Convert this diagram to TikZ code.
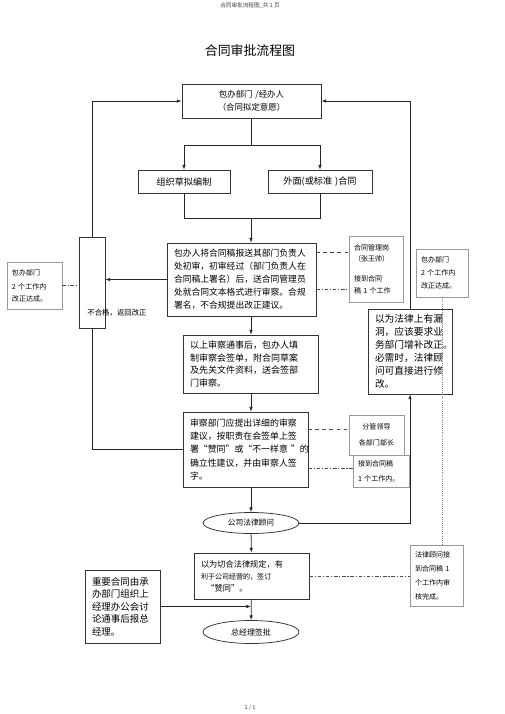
\documentclass[tikz,border=0pt]{standalone}
\usepackage{fontspec}
\setmainfont{Noto Sans CJK SC}
\usetikzlibrary{arrows.meta,shapes.geometric}

\newcommand{\fsz}[2]{\fontsize{#1}{#2}\selectfont}

\tikzset{
  >={Latex[length=4pt,width=3pt]},
  flow/.style={line width=0.65pt, draw=black!85},
  pbox/.style 2 args={draw=black!80, line width=0.65pt, fill=white,
    minimum width=#1*0.03cm, minimum height=#2*0.03cm,
    inner ysep=0pt, inner xsep=7*0.03cm, text width=#1*0.03cm-14*0.03cm, align=left},
  note/.style 2 args={draw=black!40, line width=0.4pt,
    minimum width=#1*0.03cm, minimum height=#2*0.03cm,
    inner ysep=0pt, inner xsep=5*0.03cm, text width=#1*0.03cm-10*0.03cm, align=left,
    font=\fsz{6}{10}},
  oval/.style={ellipse, draw=black!80, line width=0.65pt, fill=white,
    minimum width=96*0.03cm, minimum height=21*0.03cm, inner sep=0pt},
  dashdotline/.style={line width=0.5pt, draw=black!70,
    dash pattern=on 3pt off 1.5pt on 1pt off 1.5pt},
}

\begin{document}
\begin{tikzpicture}[x=0.03cm, y=-0.03cm]
\useasboundingbox (0,0) rectangle (505,714);

% Heading
\node[font=\fsz{4.8}{6}, text=black!75] (hdr) at (250,6) {合同审批流程图\_共 1 页};
\node[font=\fsz{11}{13}] (title) at (250,51) {合同审批流程图};

% Main column
\node[pbox={139}{34}, align=center, font=\fsz{7.2}{11}] (head) at (251.5,101)
  {包办部门 /经办人\\（合同拟定意愿）};
\node[pbox={92}{23}, align=center, font=\fsz{7.8}{10}] (draft) at (184,181.5) {组织草拟编制};
\node[pbox={104}{23}, align=center, font=\fsz{7.8}{10}] (std) at (320,181.5) {外面(或标准 )合同};
\node[pbox={149}{73}, font=\fsz{7.5}{11}] (first) at (241.5,279.5)
  {包办人将合同稿报送其部门负责人\\处初审，初审经过（部门负责人在\\合同稿上署名）后，送合同管理员\\处就合同文本格式进行审察。合规\\署名，不合规提出改正建议。};
\node[pbox={135}{58}, font=\fsz{7.7}{10.8}] (sign) at (250.5,364)
  {以上审察通事后，包办人填\\制审察会签单，附合同草案\\及先关文件资料，送会签部\\门审察。};
\node[pbox={125}{75}, font=\fsz{7.6}{11.3}] (dept) at (245.5,449.5)
  {审察部门应提出详细的审察\\建议，按职责在会签单上签\\署“赞同”或“不一样意~”的\\确立性建议，并由审察人签\\字。};
\node[oval, font=\fsz{6.6}{8}] (legal) at (251,523) {公司法律顾问};
\node[pbox={115}{46}, font=\fsz{7}{10.2}, inner xsep=6*0.03cm] (agree) at (251.5,576)
  {以为切合法律规定，有\\{\fsz{6}{10.2}利于公司经营的，签订}\\\ \ “赞同”。};
\node[oval, minimum height=23*0.03cm, font=\fsz{6.8}{8}] (gm) at (251,632) {总经理签批};
\node[pbox={75}{73}, font=\fsz{8.1}{10.6}, inner xsep=5*0.03cm] (meeting) at (122.5,606.5)
  {重要合同由承\\办部门组织上\\经理办公会讨\\论通事后报总\\经理。};

% Return boxes
\node[pbox={26}{91}] (back) at (92,282.5) {};
\node[font=\fsz{6.3}{8}] (backlbl) at (117,313) {不合格，返回改正};
\node[pbox={84}{85}, font=\fsz{8.3}{11.2}] (fix) at (410,351.5)
  {以为法律上有漏\\洞，应该要求业\\务部门增补改正。\\必需时，法律顾\\问可直接进行修\\改。};

% Time limits
\node[note={55}{47}] (note1) at (34.5,285.5) {包办部门\\[2pt]2 个工作内\\改正达成。};
\node[note={54}{66}] (note2) at (376,269) {合同管理岗\\（张王帅）\\[7pt]接到合同\\稿 1 个工作};
\node[note={52}{48}, font=\fsz{6}{11}] (note3) at (442,273) {包办部门\\2 个工作内\\改正达成。};
\node[note={55}{40}, align=center] (note4) at (376.5,435) {分管领导\\[4pt]各部门部长};
\node[note={56}{32}, font=\fsz{6}{12.5}] (note5) at (381,471) {接到合同稿\\1 个工作内。};
\node[note={53}{61}, font=\fsz{6}{12}] (note6) at (436.5,575.5) {法律顾问接\\到合同稿 1\\个工作内审\\核完成。};

% Main flow
\coordinate (split) at (251,145);
\coordinate (merge) at (251,218);
\draw[flow] (head.south -| split) -- (split);
\draw[flow,->] (split) -| (draft.north);
\draw[flow,->] (split) -| (std.north);
\draw[flow] (draft.south) |- (merge);
\draw[flow] (std.south) |- (merge);
\draw[flow,->] (merge) -- (merge |- first.north);
\draw[flow,->] (merge |- first.south) -- (merge |- sign.north);
\draw[flow,->] (merge |- sign.south) -- (merge |- dept.north);
\draw[flow,->] (merge |- dept.south) -- (legal.north);
\draw[flow,->] (legal) -- (agree);
\draw[flow,->] (agree) -- (gm);
\draw[flow,->] (meeting.east) -- (meeting.east -| gm.north);

% Loops
\draw[flow,->] (first.west) -- (first.west -| back.east);
\draw[flow,->] (back.north) |- (head.west);
\draw[flow] (back.south) |- (dept.west);
\draw[flow,->] (legal.east) -| (fix.south);
\draw[flow,->] (fix.north) |- (head.east);

% Note links
\path (first.north east) ++(0,10) coordinate (d1);
\path (first.south east) ++(0,-27) coordinate (d2);
\path (dept.north east) ++(0,18) coordinate (d3);
\path (dept.south east) ++(0,-19) coordinate (d4);
\draw[dashdotline] (note1.east) -- (note1.east -| back.west);
\draw[line width=0.8pt, dashed, black!75] (d1) -- (d1 -| note2.west);
\draw[dashdotline] (d2) -- (d2 -| note2.west);
\draw[line width=0.5pt, dashed, black!70] (d3) -- (d3 -| note4.west);
\draw[dashdotline] (d4) -- (d4 -| note5.west);
\draw[line width=0.8pt, densely dotted, black!50] (note3.south) -- (note3.south |- note6.north);
\draw[dashdotline] (agree.east) -- (agree.east -| note6.west);

% Footer
\node[font=\fsz{4.8}{6}, text=black!75] (pg) at (250,708) {1 / 1};
\end{tikzpicture}
\end{document}
